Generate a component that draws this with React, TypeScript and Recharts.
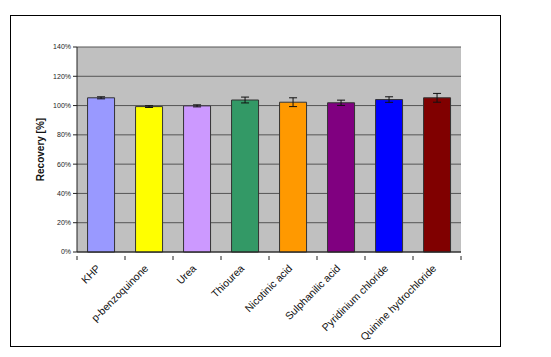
import { BarChart, Bar, XAxis, YAxis, CartesianGrid, ErrorBar, Cell } from "recharts";

const compounds = [
  "KHP",
  "p-benzoquinone",
  "Urea",
  "Thiourea",
  "Nicotinic acid",
  "Sulphanilic acid",
  "Pyridinium chloride",
  "Quinine hydrochloride",
];
const recovery = [105.3, 99.3, 99.8, 103.8, 102.3, 101.9, 104.1, 105.3];
const errors = [0.7, 0.6, 0.7, 2.0, 3.0, 1.8, 1.9, 3.0];
const barColors = ["#9999FF", "#FFFF00", "#CC99FF", "#339966", "#FF9900", "#800080", "#0000FF", "#800000"];
const yTicks = [0, 20, 40, 60, 80, 100, 120, 140];

const data = compounds.map((name, i) => ({ name, value: recovery[i], err: errors[i] }));

function CategoryTick(props: any) {
  const { x, y, payload } = props;
  const half = payload.offset ?? 0;
  return (
    <g>
      <line x1={x - half} x2={x - half} y1={y - 4} y2={y} stroke="#222" />
      {payload.index === compounds.length - 1 && (
        <line x1={x + half} x2={x + half} y1={y - 4} y2={y} stroke="#222" />
      )}
      <text
        x={x}
        y={y + 9}
        transform={`rotate(-45, ${x}, ${y + 9})`}
        textAnchor="end"
        fontSize={10.5}
        fill="#111"
        fontFamily="Liberation Sans, Arial, sans-serif"
      >
        {payload.value}
      </text>
    </g>
  );
}

export default function App() {
  return (
    <div style={{ position: "absolute", left: 0, top: 0, width: 551, height: 357, background: "#fff" }}>
      <div
        style={{
          position: "absolute",
          left: 10,
          top: 15,
          width: 489,
          height: 330,
          border: "1.5px solid #000",
        }}
      />
      <div style={{ position: "absolute", left: 0, top: 0 }}>
        <BarChart
          width={551}
          height={357}
          data={data}
          margin={{ top: 47, right: 90, left: 0, bottom: 0 }}
          barCategoryGap="22%"
        >
          <CartesianGrid vertical={false} fill="#C0C0C0" stroke="#555" strokeWidth={1} />
          <XAxis
            dataKey="name"
            height={105}
            interval={0}
            tickLine={false}
            axisLine={{ stroke: "#222" }}
            tick={<CategoryTick />}
          />
          <YAxis
            width={77}
            domain={[0, 140]}
            ticks={yTicks}
            interval={0}
            tickFormatter={(v: number) => `${v}%`}
            tick={{ fontSize: 7, fill: "#222", fontFamily: "Liberation Sans, Arial, sans-serif" }}
            tickLine={{ stroke: "#222" }}
            tickSize={4}
            axisLine={{ stroke: "#222" }}
            label={{
              value: "Recovery [%]",
              angle: -90,
              position: "insideLeft",
              offset: 40,
              style: {
                textAnchor: "middle",
                fontSize: 10,
                fontWeight: "bold",
                fill: "#111",
                fontFamily: "Liberation Sans, Arial, sans-serif",
              },
            }}
          />
          <Bar dataKey="value" isAnimationActive={false} stroke="#333" strokeWidth={1}>
            {data.map((d, i) => (
              <Cell key={d.name} fill={barColors[i]} />
            ))}
            <ErrorBar dataKey="err" width={4} stroke="#111" strokeWidth={1} direction="y" />
          </Bar>
        </BarChart>
      </div>
    </div>
  );
}
